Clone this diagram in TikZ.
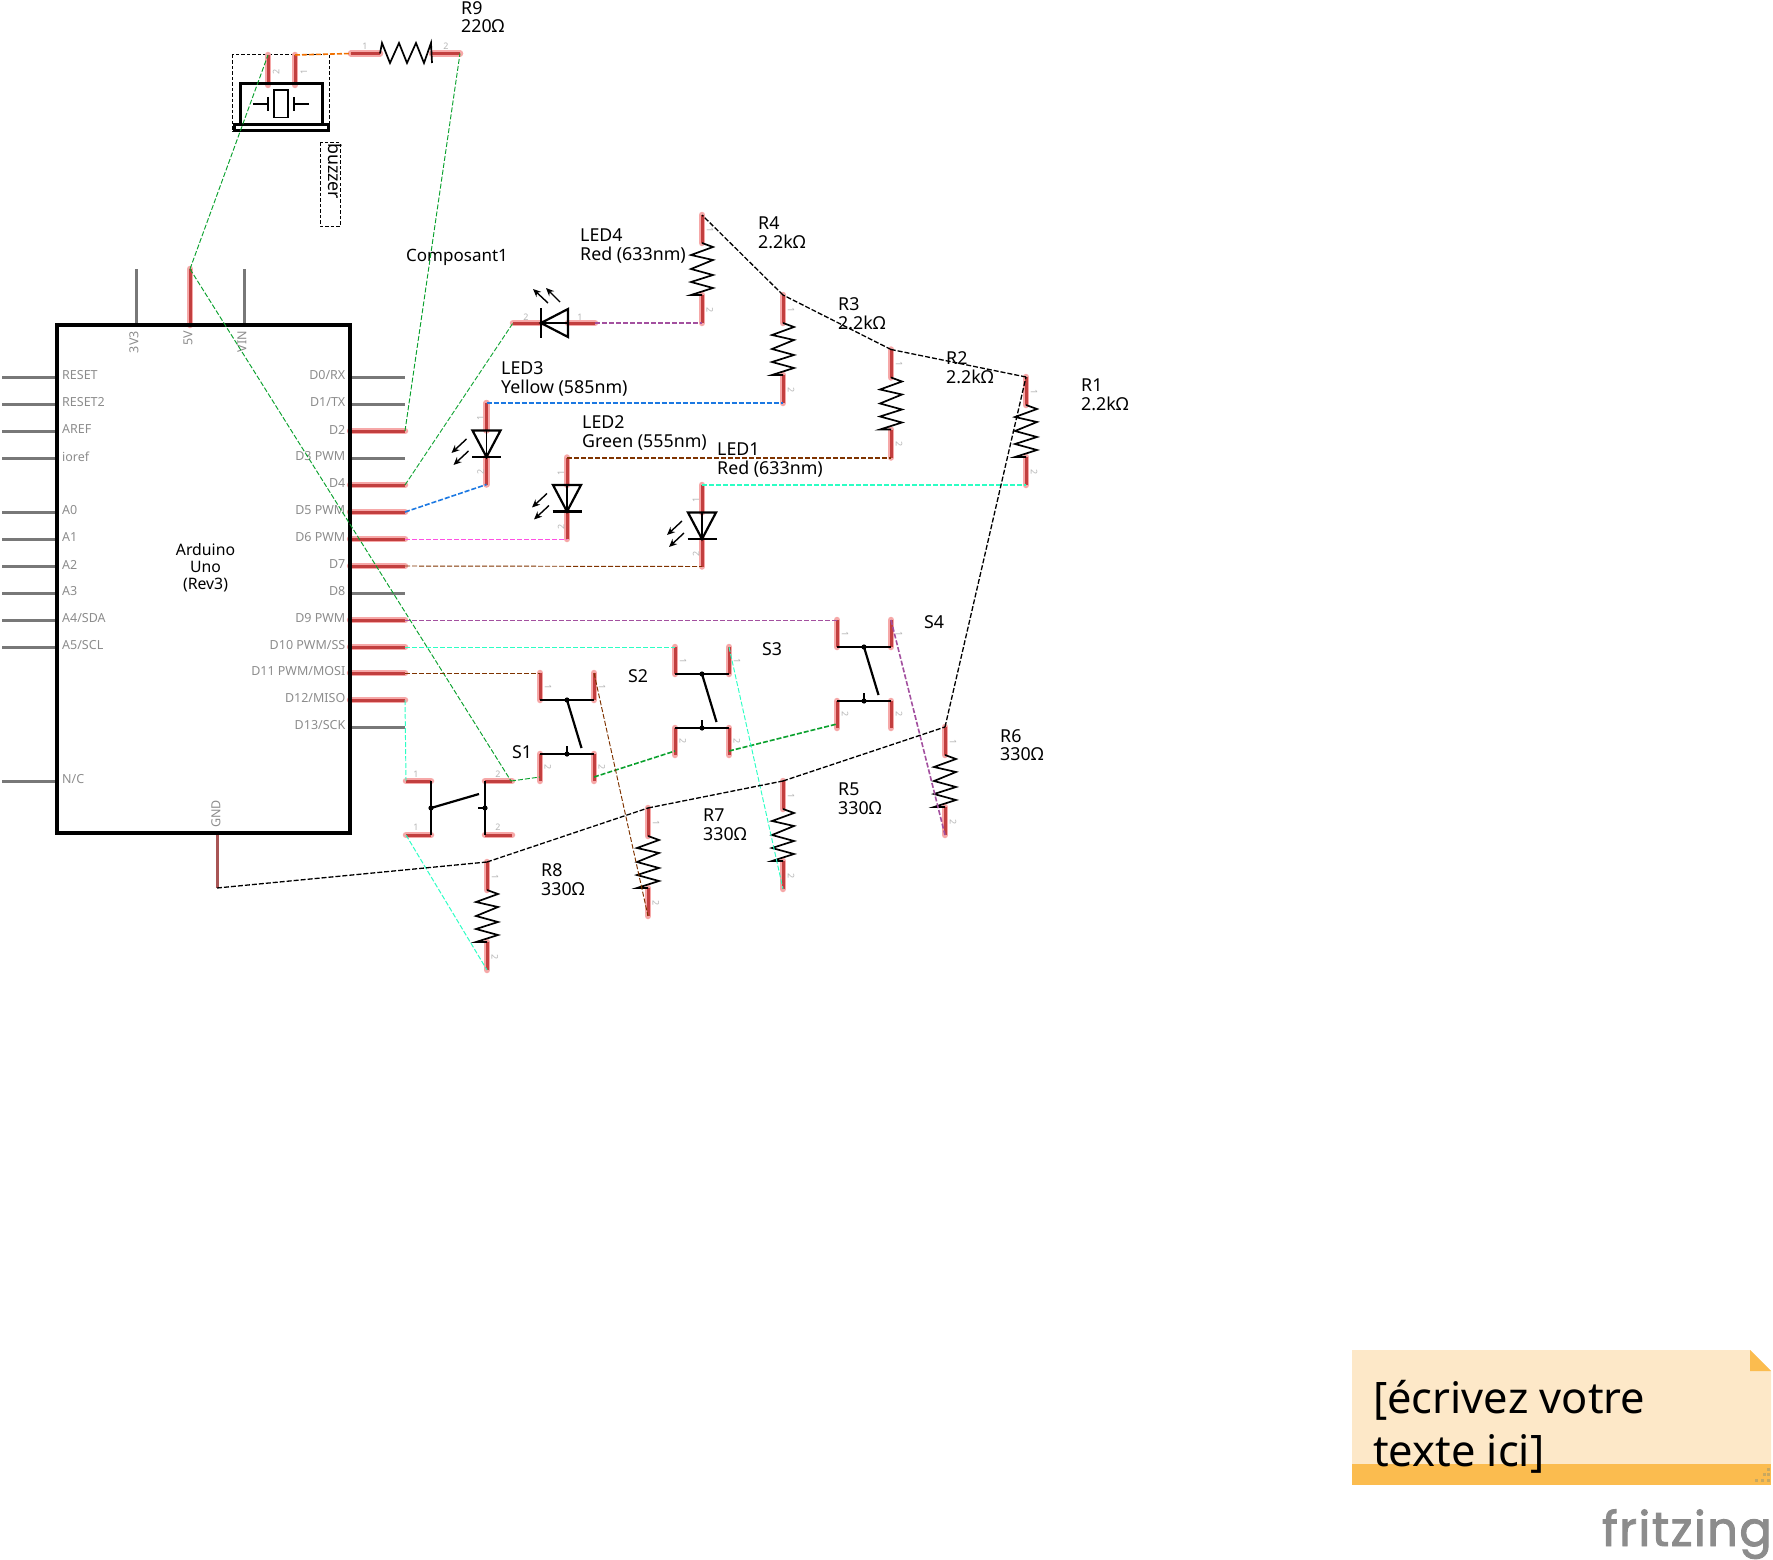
\documentclass[tikz,border=0pt]{standalone}
\usepackage{fontspec}
\setmainfont{Noto Sans}
\newfontfamily\logofont[FakeBold=2]{Poppins}
\usetikzlibrary{arrows.meta}
\definecolor{corered}{HTML}{C23F3F}
\definecolor{halored}{HTML}{F6A8A8}
\definecolor{pingrey}{HTML}{787878}
\definecolor{gndred}{HTML}{A85555}
\definecolor{txtgrey}{HTML}{8C8C8C}
\definecolor{numgrey}{HTML}{B4B4B4}
\definecolor{wgreen}{HTML}{0BA12E}
\definecolor{wblue}{HTML}{1B78E2}
\definecolor{wmag}{HTML}{FF50E4}
\definecolor{wbrown}{HTML}{7F3300}
\definecolor{wpurp}{HTML}{A3509F}
\definecolor{wturq}{HTML}{2CFFC4}
\definecolor{worange}{HTML}{F07000}
\definecolor{notepale}{HTML}{FDE8C8}
\definecolor{noteorange}{HTML}{FBBC4F}
\definecolor{notedot}{HTML}{C8A860}
\tikzset{
  halo/.style={draw=halored,line width=6.5pt,line cap=round},
  core/.style={draw=corered,line width=3pt,line cap=butt},
  freepin/.style={draw=pingrey,line width=3pt},
  gndpin/.style={draw=gndred,line width=3pt},
  sym/.style={draw=black,line width=2.2pt,line join=miter},
  thinsym/.style={draw=black,line width=1.2pt},
  zig/.style={draw=black,line width=1.7pt,line join=miter},
  lab/.style={inner sep=0pt,anchor=west,align=left,font=\fontsize{17.8}{18.7}\selectfont},
  plab/.style={inner sep=0pt,text=txtgrey,font=\fontsize{12.5}{13}\selectfont},
  numlab/.style={inner sep=0pt,text=numgrey,font=\fontsize{9}{9}\selectfont},
  wire/.style={dashed,dash pattern=on 5pt off 2pt,line width=0.95pt},
  wirefat/.style={dashed,dash pattern=on 5pt off 2pt,line width=2pt},
  tipped/.style={draw=black,line width=1.4pt,-{Stealth[length=8pt,width=7pt]}},
  logoring/.style={draw=txtgrey,fill=white,line width=2.4pt},
}
\newcommand\conpin[2]{\draw[halo] #1 -- #2; \draw[core] #1 -- #2;}
% vertical resistor: name, x, y of the top end
\newcommand\rrV[3]{%
  \coordinate (#1-1) at (#2,#3);
  \coordinate (#1-2) at (#2,#3+108);
  \conpin{(#2,#3)}{(#2,#3+28)}
  \conpin{(#2,#3+80)}{(#2,#3+108)}
  \draw[zig] (#2,#3+28) -- ++(11,4) -- ++(-22,8) -- ++(22,5) -- ++(-22,9) -- ++(22,6) -- ++(-22,7) -- ++(22,6) -- ++(-22,7) -- ++(11,0);
  \node[numlab,rotate=-90] (#1-n1) at (#2+8,#3+15) {1};
  \node[numlab,rotate=-90] (#1-n2) at (#2+8,#3+95) {2};
}
% vertical LED: name, x, y of the top end
\newcommand\ledV[3]{%
  \coordinate (#1-1) at (#2,#3);
  \coordinate (#1-2) at (#2,#3+81.5);
  \conpin{(#2,#3)}{(#2,#3+27.5)}
  \conpin{(#2,#3+54)}{(#2,#3+81.5)}
  \draw[sym] (#2-14,#3+27.5) -- (#2+14,#3+27.5) -- (#2,#3+54) -- cycle;
  \draw[sym] (#2-14.5,#3+54) -- (#2+14.5,#3+54);
  \draw[thinsym] (#2,#3+27.5) -- (#2,#3+54);
  \draw[tipped] (#2-20,#3+36) -- (#2-35,#3+50);
  \draw[tipped] (#2-18,#3+48) -- (#2-33,#3+62);
  \node[numlab,rotate=90] (#1-n1) at (#2-6,#3+15) {1};
  \node[numlab,rotate=90] (#1-n2) at (#2-6,#3+69) {2};
}
% vertical switch: name, left x, y of the top end
\newcommand\swV[3]{%
  \coordinate (#1-tl) at (#2,#3);
  \coordinate (#1-tr) at (#2+54,#3);
  \coordinate (#1-bl) at (#2,#3+104);
  \coordinate (#1-br) at (#2+54,#3+104);
  \conpin{(#2,#3)}{(#2,#3+27)}
  \conpin{(#2+54,#3)}{(#2+54,#3+27)}
  \conpin{(#2,#3+81)}{(#2,#3+108)}
  \conpin{(#2+54,#3+81)}{(#2+54,#3+108)}
  \draw[sym] (#2,#3+27) -- (#2+54,#3+27);
  \draw[sym] (#2,#3+81) -- (#2+54,#3+81);
  \draw[sym] (#2+27,#3+27) -- (#2+41.5,#3+75);
  \draw[sym] (#2+27,#3+81) -- (#2+27,#3+73);
  \fill (#2+27,#3+27) circle (2.6pt);
  \fill (#2+27,#3+81) circle (2.6pt);
  \node[numlab,rotate=-90] at (#2+8,#3+14) {1};
  \node[numlab,rotate=-90] at (#2+62,#3+14) {1};
  \node[numlab,rotate=-90] at (#2+8,#3+94) {2};
  \node[numlab,rotate=-90] at (#2+62,#3+94) {2};
}
\begin{document}
\begin{tikzpicture}[x=1pt,y=-1pt]
\useasboundingbox (0,0) rectangle (1773,1560);

% ---------- Arduino ----------
\foreach \lab/\yy/\nm in {RESET/377/a,RESET2/404/b,AREF/431/c,ioref/458/d,A0/512/e,A1/539/f,A2/566/g,A3/593/h,{A4/SDA}/620/i,{A5/SCL}/647/j,{N/C}/781/k}{
  \draw[freepin] (2,\yy) -- (57,\yy);
  \node[plab,anchor=west] (lp-\nm) at (62,\yy-1.5) {\lab};
}
\foreach \lab/\yy/\nm in {{D0/RX}/377/a,{D1/TX}/404/b,D3 PWM/458/d,D8/593/i,{D13/SCK}/727/n}{
  \draw[freepin] (350,\yy) -- (405,\yy);
  \node[plab,anchor=east] (rp-\nm) at (345.5,\yy-1.5) {\lab};
}
\foreach \lab/\yy/\nm in {D2/431/D2,D4/485/D4,D5 PWM/512/D5,D6 PWM/539/D6,D7/566/D7,D9 PWM/620/D9,{D10 PWM/SS}/647/D10,{D11 PWM/MOSI}/673/D11,{D12/MISO}/700/D12}{
  \conpin{(350,\yy)}{(405,\yy)}
  \coordinate (\nm) at (405,\yy);
  \node[plab,anchor=east] (rp-\nm) at (345.5,\yy-1.5) {\lab};
}
\draw[freepin] (136,269) -- (136,325);
\draw[freepin] (244,269) -- (244,325);
\conpin{(190,269)}{(190,325)}
\coordinate (V5) at (190,269);
\draw[gndpin] (217,833) -- (217,888);
\coordinate (GND) at (217,888);
\draw[draw=black,line width=3.6pt] (57,325) rectangle (350,833);
\node[plab,rotate=90,anchor=east] (t3v3) at (134,331) {3V3};
\node[plab,rotate=90,anchor=east] (t5v) at (188,331) {5V};
\node[plab,rotate=90,anchor=east] (tvin) at (242,331) {VIN};
\node[plab,rotate=90,anchor=west] (tgnd) at (216,828) {GND};
\node[lab,anchor=center,align=center,font=\fontsize{15.8}{17}\selectfont] (uno) at (205.5,568) {Arduino\\Uno\\(Rev3)};

% ---------- Buzzer ----------
\draw[draw=black,line width=1pt,dashed,dash pattern=on 3.5pt off 2pt] (232,55) rectangle (329,132);
\conpin{(268,55)}{(268,85)}
\conpin{(295,55)}{(295,85)}
\coordinate (bz-2) at (268,55);
\coordinate (bz-1) at (295,55);
\draw[draw=black,line width=3pt] (240,125) -- (240,84) -- (322,84) -- (322,125);
\draw[draw=black,line width=3pt] (234,125) rectangle (328,131);
\draw[draw=black,line width=1.6pt] (274,90) rectangle (288,117.5);
\draw[draw=black,line width=1.8pt] (253,104) -- (268,104) (268,97) -- (268,111);
\draw[draw=black,line width=1.8pt] (309,104) -- (294,104) (294,97) -- (294,111);
\node[numlab,rotate=90] at (276,72) {2};
\node[numlab,rotate=90] at (304,72) {1};
\draw[draw=black,line width=1pt,dashed,dash pattern=on 3.5pt off 2pt] (320,143) rectangle (340,226);
\node[lab,anchor=west,rotate=-90] (buz) at (335,143) {buzzer};

% ---------- R9 ----------
\conpin{(351,53.5)}{(380,53.5)}
\conpin{(432,53.5)}{(460,53.5)}
\coordinate (R9-1) at (351,53.5);
\coordinate (R9-2) at (460,53.5);
\draw[zig] (380,53.5) -- (382,43) -- (390,63) -- (399,43) -- (407,63) -- (416,43) -- (424,63) -- (431,43) -- (432,63);
\node[numlab] at (365,46) {1};
\node[numlab] at (446,46) {2};

% ---------- Resistors ----------
\rrV{R4}{702}{215}
\rrV{R3}{783}{295}
\rrV{R2}{891}{349.5}
\rrV{R1}{1026}{377}
\rrV{R8}{487}{862}
\rrV{R7}{648}{808}
\rrV{R5}{783}{781}
\rrV{R6}{945}{727}

% ---------- LEDs ----------
\ledV{L3}{486.5}{403}
\ledV{L2}{567}{457.5}
\ledV{L1}{702}{485}
\conpin{(513,323)}{(541,323)}
\conpin{(568,323)}{(595,323)}
\coordinate (L4-2) at (513,323);
\coordinate (L4-1) at (595,323);
\draw[sym] (568,309) -- (568,337) -- (541,323) -- cycle;
\draw[sym] (541,308) -- (541,338);
\draw[thinsym] (541,323) -- (568,323);
\draw[tipped] (548,303) -- (533,289);
\draw[tipped] (560,302) -- (546,288);
\node[numlab] at (526,317) {2};
\node[numlab] at (580,317) {1};

% ---------- Switches ----------
\conpin{(406,781)}{(431,781)}
\conpin{(406,835)}{(431,835)}
\conpin{(485,781)}{(512,781)}
\conpin{(485,835)}{(512,835)}
\coordinate (S1-tl) at (406,781);
\coordinate (S1-bl) at (406,835);
\coordinate (S1-tr) at (511,781);
\draw[sym] (431,781) -- (431,835);
\draw[sym] (485,781) -- (485,835);
\draw[sym] (431,808) -- (479,794);
\draw[sym] (485,808) -- (478,808);
\fill (431,808) circle (2.6pt);
\fill (485,808) circle (2.6pt);
\node[numlab] at (416,774) {1};
\node[numlab] at (416,827) {1};
\node[numlab] at (498,774) {2};
\node[numlab] at (498,827) {2};
\swV{S2}{540}{673}
\swV{S3}{675}{647}
\swV{S4}{837}{620}

% ---------- Labels ----------
\node[lab] (tR9) at (461,17) {R9\\220Ω};
\node[lab] (tR4) at (758,232.5) {R4\\2.2kΩ};
\node[lab] (tR3) at (838,313.5) {R3\\2.2kΩ};
\node[lab] (tR2) at (946,367.5) {R2\\2.2kΩ};
\node[lab] (tR1) at (1081,394.5) {R1\\2.2kΩ};
\node[lab] (tR8) at (541,879.5) {R8\\330Ω};
\node[lab] (tR7) at (703,825) {R7\\330Ω};
\node[lab] (tR5) at (838,799) {R5\\330Ω};
\node[lab] (tR6) at (1000,745) {R6\\330Ω};
\node[lab] (tL4) at (580,246) {LED4\\Red (633nm)};
\node[lab] (tL3) at (501,379) {LED3\\Yellow (585nm)};
\node[lab] (tL2) at (582,433) {LED2\\Green (555nm)};
\node[lab] (tL1) at (717,460) {LED1\\Red (633nm)};
\node[lab,font=\fontsize{17}{18.5}\selectfont] (tC) at (406,257) {Composant1};
\node[lab] (tS1) at (512,752) {S1};
\node[lab] (tS2) at (628,676) {S2};
\node[lab] (tS3) at (762,649) {S3};
\node[lab] (tS4) at (924,622) {S4};

% ---------- Wires ----------
\draw[wire,wgreen] (V5) -- (bz-2);
\draw[wire,wgreen] (V5) -- (S1-tr);
\draw[wire,wgreen] (D2) -- (R9-2);
\draw[wire,wgreen] (D4) -- (L4-2);
\draw[wire,wblue,line width=1.6pt] (D5) -- (L3-2);
\draw[wire,wmag] (D6) -- (L2-2);
\draw[wire,wbrown] (D7) -- (L1-2);
\draw[wire,wpurp] (D9) -- (S4-tl);
\draw[wire,wturq] (D10) -- (S3-tl);
\draw[wire,wbrown] (D11) -- (S2-tl);
\draw[wire,wturq] (D12) -- (S1-tl);
\draw[wire,wturq] (S1-bl) -- (R8-2);
\draw[wire,worange,line width=1.6pt] (bz-1) -- (R9-1);
\draw[wirefat,wpurp] (L4-1) -- (R4-2);
\draw[wirefat,wblue] (L3-1) -- (R3-2);
\draw[wirefat,wbrown] (L2-1) -- (R2-2);
\draw[wirefat,wturq] (L1-1) -- (R1-2);
\draw[wire,wgreen] (S1-tr) -- (S2-bl);
\draw[wire,wgreen,line width=1.6pt] (S2-br) -- (S3-bl);
\draw[wire,wgreen,line width=1.6pt] (S3-br) -- (S4-bl);
\draw[wire,wbrown] (S2-tr) -- (R7-2);
\draw[wire,wturq] (S3-tr) -- (R5-2);
\draw[wire,wpurp,line width=1.6pt] (S4-tr) -- (R6-2);
\draw[wire,black,line width=1.3pt] (GND) -- (R8-1);
\draw[wire,black,line width=1.3pt] (R8-1) -- (R7-1);
\draw[wire,black,line width=1.3pt] (R7-1) -- (R5-1);
\draw[wire,black,line width=1.3pt] (R5-1) -- (R6-1);
\draw[wire,black,line width=1.3pt] (R6-1) -- (R1-1);
\draw[wire,black,line width=1.3pt] (R1-1) -- (R2-1);
\draw[wire,black,line width=1.3pt] (R2-1) -- (R3-1);
\draw[wire,black,line width=1.3pt] (R3-1) -- (R4-1);

% ---------- Note ----------
\fill[notepale] (1352,1350) -- (1750,1350) -- (1771,1371) -- (1771,1464) -- (1352,1464) -- cycle;
\fill[noteorange] (1352,1464) rectangle (1771,1485);
\fill[noteorange] (1750,1350) -- (1771,1371) -- (1750,1371) -- cycle;
\foreach \px/\py in {1767/1468,1763/1473,1767/1473,1755/1479,1761/1479,1767/1479}{
  \fill[notedot] (\px,\py) rectangle ++(3,3);
}
\node[inner sep=0pt,anchor=west,align=left,font=\fontsize{43.4}{53.5}\selectfont] (note) at (1373,1427) {[écrivez votre\\texte ici]};

% ---------- Logo ----------
\node[inner sep=0pt,anchor=base east,text=txtgrey,font=\logofont\addfontfeature{LetterSpace=3}\fontsize{48}{48}\selectfont] (logo) at (1772,1546) {fritzing};
\end{tikzpicture}
\end{document}
